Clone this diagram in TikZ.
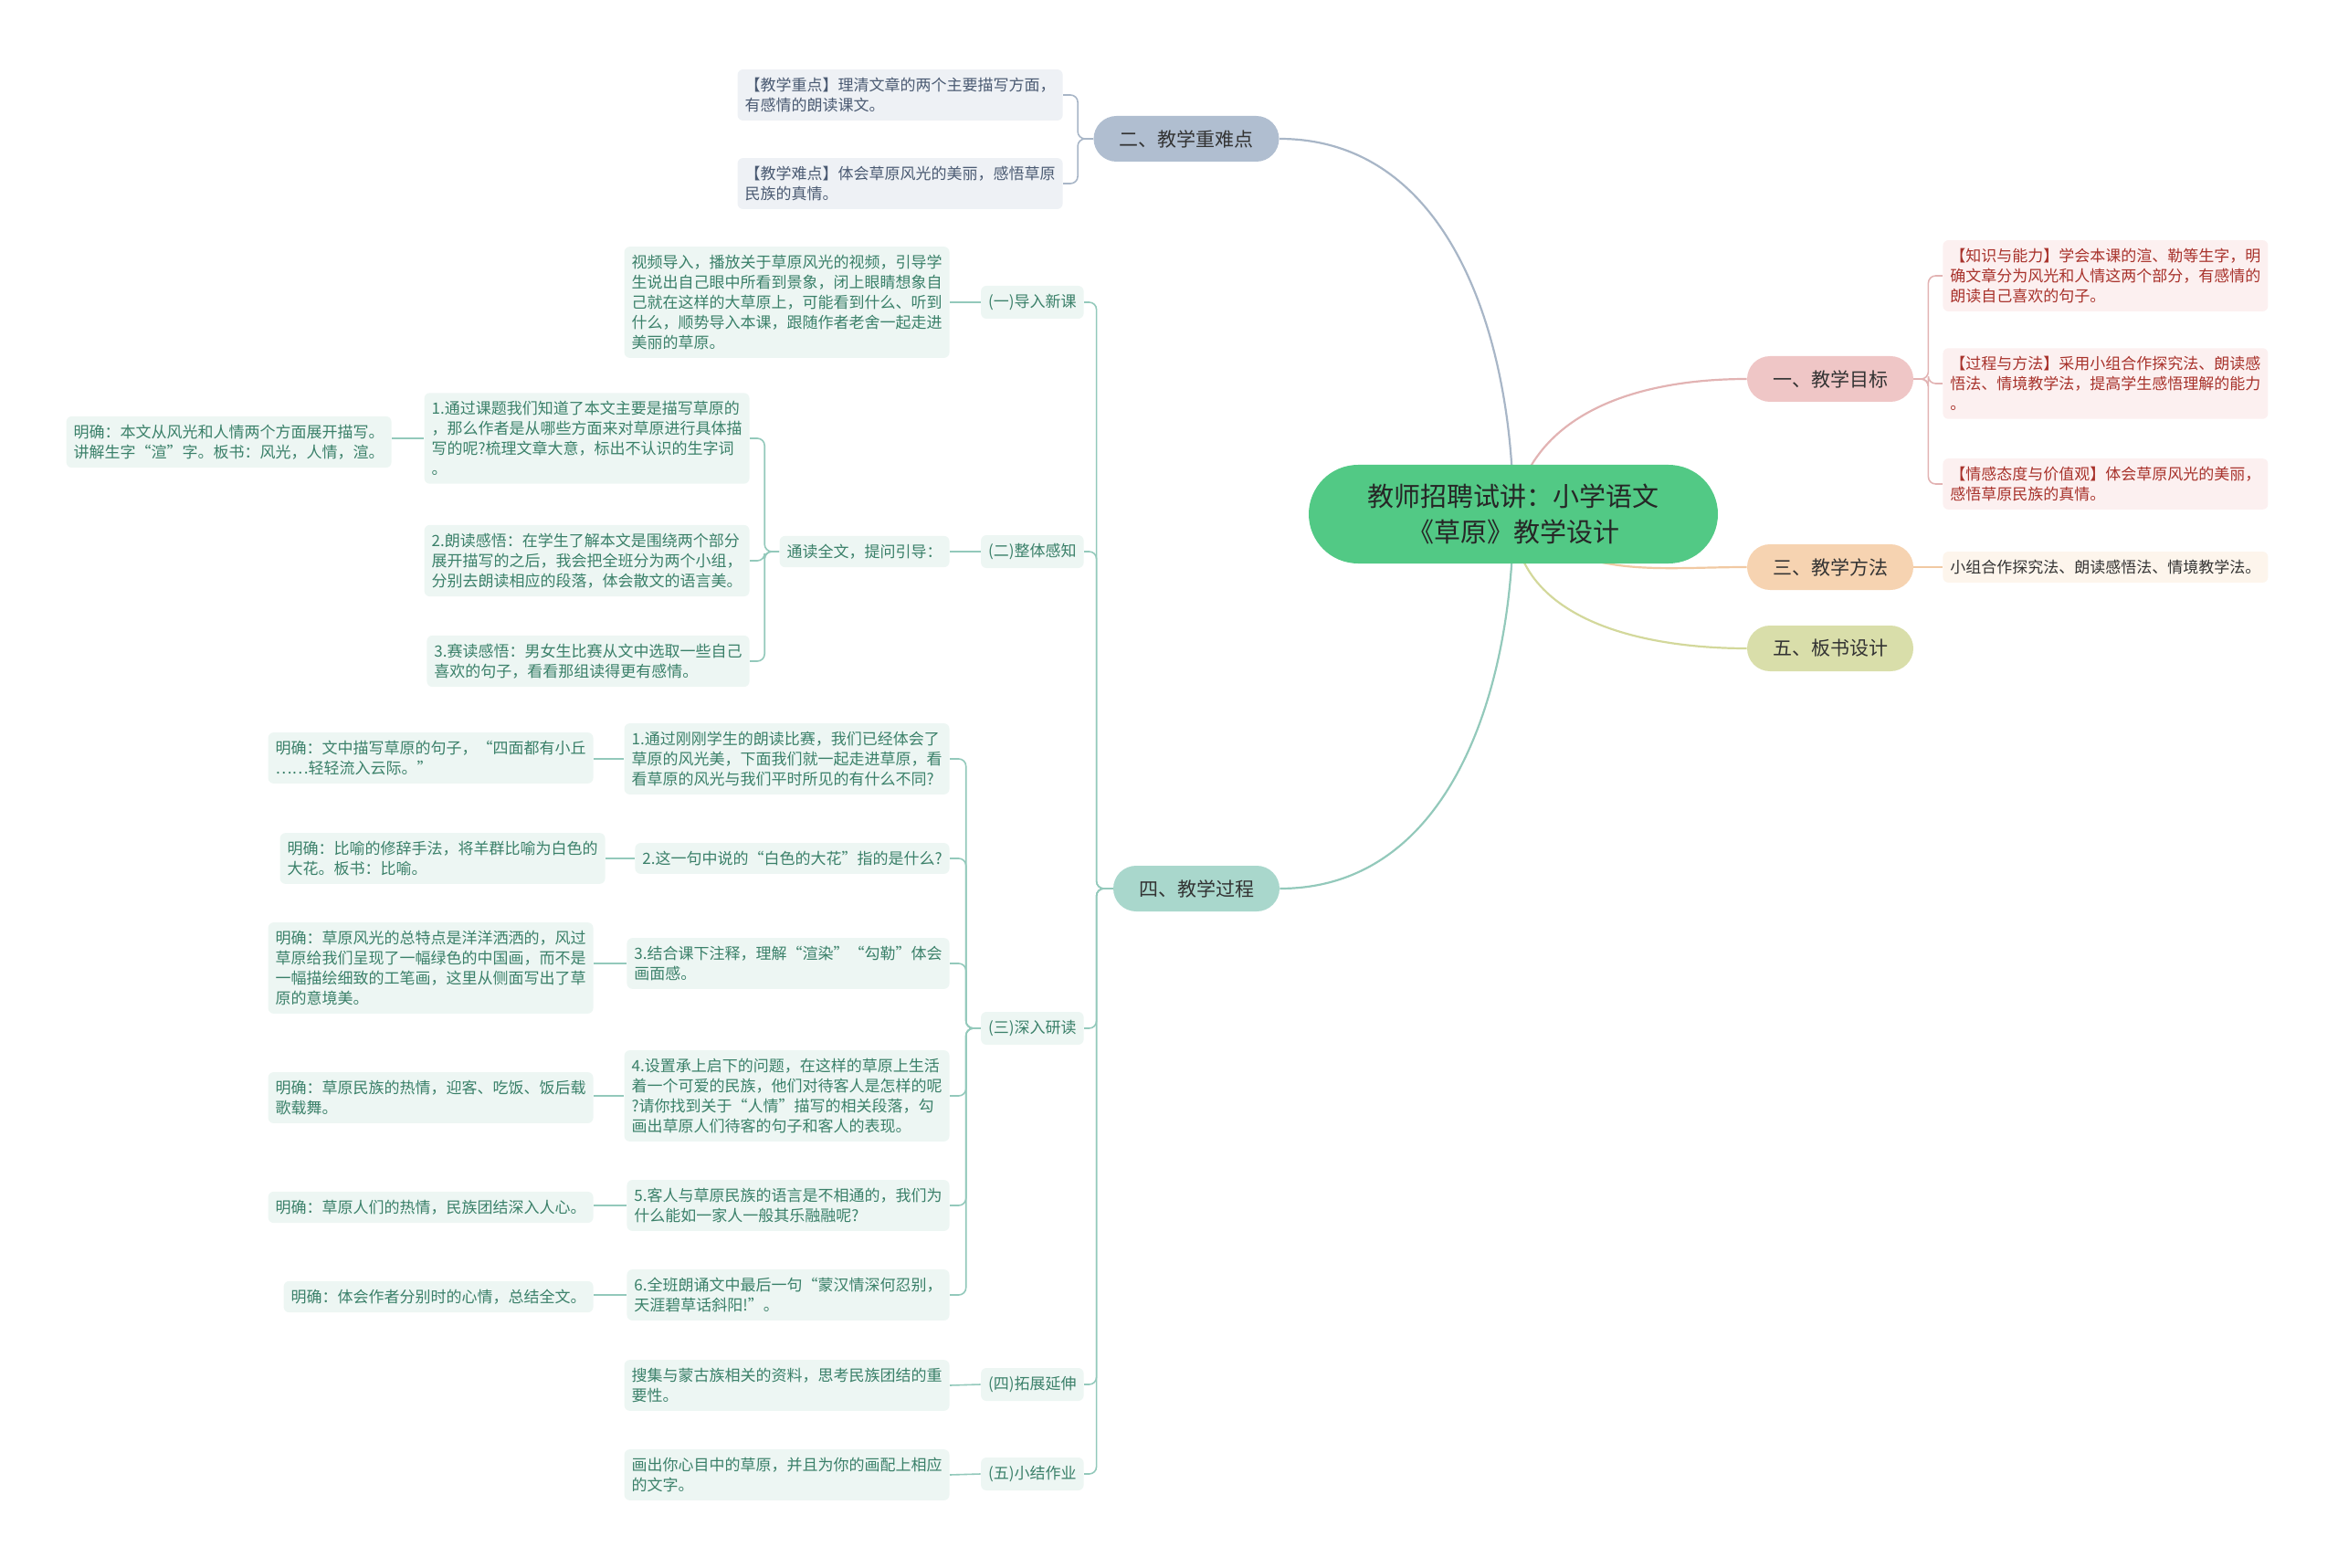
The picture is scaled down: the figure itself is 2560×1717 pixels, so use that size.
\documentclass[tikz,border=0pt]{standalone}
\usepackage{fontspec}
\setmainfont{Noto Sans CJK SC}
\usepackage{tikz}
\usetikzlibrary{backgrounds}
\definecolor{rootfill}{HTML}{52C985}
\definecolor{greyfill}{HTML}{B0BED0}
\definecolor{redfill}{HTML}{EFC6C6}
\definecolor{sandfill}{HTML}{F6D3B1}
\definecolor{olivefill}{HTML}{D9DEAA}
\definecolor{tealfill}{HTML}{A9D7CC}
\definecolor{greyln}{HTML}{A8B6C7}
\definecolor{redln}{HTML}{E2B3B3}
\definecolor{sandln}{HTML}{F1C9A2}
\definecolor{oliveln}{HTML}{D3D89B}
\definecolor{tealln}{HTML}{93C9BB}
\definecolor{greybg}{HTML}{EEF1F5}
\definecolor{greytx}{HTML}{4A5A72}
\definecolor{redbg}{HTML}{FCF0F0}
\definecolor{redtx}{HTML}{A8322B}
\definecolor{sandbg}{HTML}{FDF5EC}
\definecolor{tealbg}{HTML}{EDF6F3}
\definecolor{tealtx}{HTML}{3A8069}

\begin{document}
\begin{tikzpicture}[x=0.5pt,y=-0.5pt,
    every node/.style={font=\fontsize{8.5pt}{11pt}\selectfont,inner xsep=4pt,inner ysep=4.5pt,rounded corners=3pt,align=left},
    rootnode/.style={fill=rootfill,text=black!85,rounded corners=27pt,font=\fontsize{14.5pt}{19.5pt}\selectfont,align=center,minimum width=224pt,minimum height=54pt},
    topic/.style={fill=#1,text=black!80,rounded corners=12.5pt,font=\fontsize{10.5pt}{13pt}\selectfont,inner xsep=14pt,minimum height=25pt},
    subnode/.style={fill=tealbg,text=tealtx,minimum height=18pt,inner ysep=3pt,anchor=east},
    leafgreen/.style={fill=tealbg,text=tealtx,anchor=east},
    leafgrey/.style={fill=greybg,text=greytx,anchor=east},
    leafred/.style={fill=redbg,text=redtx,anchor=west},
    leafsand/.style={fill=sandbg,text=black!80,anchor=west},
    mainln/.style={draw=#1,line width=1.1pt},
    link/.style={draw=#1,line width=0.8pt,rounded corners=4pt}]
  \useasboundingbox (0,0) rectangle (2560,1717);

  % centre and main topics
  \node[rootnode] (root) at (1657,563) {教师招聘试讲：小学语文\\《草原》教学设计};
  \node[topic=greyfill] (t2) at (1299,152) {二、教学重难点};
  \node[topic=redfill] (t1) at (2004,415) {一、教学目标};
  \node[topic=sandfill] (t3) at (2004,621) {三、教学方法};
  \node[topic=olivefill] (t5) at (2004,710) {五、板书设计};
  \node[topic=tealfill] (t4) at (1310,973) {四、教学过程};

  % 二
  \node[leafgrey] (t2a) at (1164,104) {【教学重点】理清文章的两个主要描写方面，\\有感情的朗读课文。};
  \node[leafgrey] (t2b) at (1164,201) {【教学难点】体会草原风光的美丽，感悟草原\\民族的真情。};

  % 一 and 三
  \node[leafred] (t1a) at (2127,302) {【知识与能力】学会本课的渲、勒等生字，明\\确文章分为风光和人情这两个部分，有感情的\\朗读自己喜欢的句子。};
  \node[leafred] (t1b) at (2127,420) {【过程与方法】采用小组合作探究法、朗读感\\悟法、情境教学法，提高学生感悟理解的能力\\。};
  \node[leafred] (t1c) at (2127,530) {【情感态度与价值观】体会草原风光的美丽，\\感悟草原民族的真情。};
  \node[leafsand] (t3a) at (2127,621) {小组合作探究法、朗读感悟法、情境教学法。};

  % 四
  \node[subnode] (s1) at (1187,331) {(一)导入新课};
  \node[subnode] (s2) at (1187,604) {(二)整体感知};
  \node[subnode] (s3) at (1187,1126) {(三)深入研读};
  \node[subnode] (s4) at (1187,1516) {(四)拓展延伸};
  \node[subnode] (s5) at (1187,1614) {(五)小结作业};

  \node[leafgreen] (s1a) at (1040,331) {视频导入，播放关于草原风光的视频，引导学\\生说出自己眼中所看到景象，闭上眼睛想象自\\己就在这样的大草原上，可能看到什么、听到\\什么，顺势导入本课，跟随作者老舍一起走进\\美丽的草原。};

  \node[leafgreen] (s2a) at (1040,604) {通读全文，提问引导：};
  \node[leafgreen] (s2a1) at (821,480) {1.通过课题我们知道了本文主要是描写草原的\\，那么作者是从哪些方面来对草原进行具体描\\写的呢?梳理文章大意，标出不认识的生字词\\。};
  \node[leafgreen] (s2a2) at (821,614) {2.朗读感悟：在学生了解本文是围绕两个部分\\展开描写的之后，我会把全班分为两个小组，\\分别去朗读相应的段落，体会散文的语言美。};
  \node[leafgreen] (s2a3) at (821,724) {3.赛读感悟：男女生比赛从文中选取一些自己\\喜欢的句子，看看那组读得更有感情。};
  \node[leafgreen] (s2m) at (429,484) {明确：本文从风光和人情两个方面展开描写。\\讲解生字“渲”字。板书：风光，人情，渲。};

  \node[leafgreen] (s3c1) at (1040,831) {1.通过刚刚学生的朗读比赛，我们已经体会了\\草原的风光美，下面我们就一起走进草原，看\\看草原的风光与我们平时所见的有什么不同?};
  \node[leafgreen] (s3c2) at (1040,940) {2.这一句中说的“白色的大花”指的是什么?};
  \node[leafgreen] (s3c3) at (1040,1055) {3.结合课下注释，理解“渲染”“勾勒”体会\\画面感。};
  \node[leafgreen] (s3c4) at (1040,1200) {4.设置承上启下的问题，在这样的草原上生活\\着一个可爱的民族，他们对待客人是怎样的呢\\?请你找到关于“人情”描写的相关段落，勾\\画出草原人们待客的句子和客人的表现。};
  \node[leafgreen] (s3c5) at (1040,1320) {5.客人与草原民族的语言是不相通的，我们为\\什么能如一家人一般其乐融融呢?};
  \node[leafgreen] (s3c6) at (1040,1418) {6.全班朗诵文中最后一句“蒙汉情深何忍别，\\天涯碧草话斜阳!”。};

  \node[leafgreen] (s3m1) at (650,830) {明确：文中描写草原的句子，“四面都有小丘\\……轻轻流入云际。”};
  \node[leafgreen] (s3m2) at (663,940) {明确：比喻的修辞手法，将羊群比喻为白色的\\大花。板书：比喻。};
  \node[leafgreen] (s3m3) at (650,1060) {明确：草原风光的总特点是洋洋洒洒的，风过\\草原给我们呈现了一幅绿色的中国画，而不是\\一幅描绘细致的工笔画，这里从侧面写出了草\\原的意境美。};
  \node[leafgreen] (s3m4) at (650,1202) {明确：草原民族的热情，迎客、吃饭、饭后载\\歌载舞。};
  \node[leafgreen] (s3m5) at (650,1322) {明确：草原人们的热情，民族团结深入人心。};
  \node[leafgreen] (s3m6) at (650,1420) {明确：体会作者分别时的心情，总结全文。};

  \node[leafgreen] (s4a) at (1040,1517) {搜集与蒙古族相关的资料，思考民族团结的重\\要性。};
  \node[leafgreen] (s5a) at (1040,1615) {画出你心目中的草原，并且为你的画配上相应\\的文字。};

  % connectors
  \begin{scope}[on background layer]
    \draw[mainln=greyln] (root.center) to[out=90,in=0] (t2.east);
    \draw[mainln=redln] (root.center) to[out=80,in=180] (t1.west);
    \draw[mainln=sandln] (root.center) to[out=-45,in=180] (t3.west);
    \draw[mainln=oliveln] (root.center) to[out=-90,in=180] (t5.west);
    \draw[mainln=tealln] (root.center) to[out=-90,in=0] (t4.east);

    \foreach \c in {t2a,t2b}
      \draw[link=greyln] (t2.west) -- ++(-17,0) |- (\c.east);
    \foreach \c in {t1a,t1b,t1c}
      \draw[link=redln] (t1.east) -- ++(16,0) |- (\c.west);
    \draw[link=sandln] (t3.east) -- (t3a.west);

    \foreach \c in {s1,s2,s3,s4,s5}
      \draw[link=tealln] (t4.west) -- ++(-18,0) |- (\c.east);
    \draw[link=tealln] (s1.west) -- (s1a.east);
    \draw[link=tealln] (s2.west) -- (s2a.east);
    \foreach \c in {s2a1,s2a2,s2a3}
      \draw[link=tealln] (s2a.west) -- ++(-16,0) |- (\c.east);
    \draw[link=tealln] (s2a1.west) -- (s2m.east |- s2a1.west);
    \foreach \i in {1,...,6}{
      \draw[link=tealln] (s3.west) -- ++(-16,0) |- (s3c\i.east);
      \draw[link=tealln] (s3c\i.west) -- (s3m\i.east |- s3c\i.west);
    }
    \draw[link=tealln] (s4.west) -- (s4a.east);
    \draw[link=tealln] (s5.west) -- (s5a.east);
  \end{scope}
\end{tikzpicture}
\end{document}
